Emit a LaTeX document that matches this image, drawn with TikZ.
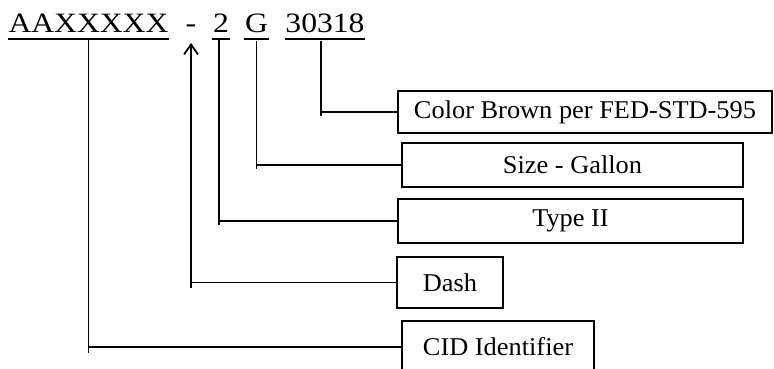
\documentclass[tikz,border=0pt]{standalone}
\usepackage{fontspec}
\setmainfont{Liberation Serif}[FakeStretch=1.03]
\newfontfamily\partfont{Liberation Serif}[FakeStretch=1.13]
\usetikzlibrary{arrows.meta}

\begin{document}
\begin{tikzpicture}[x=1pt,y=-1pt,
    line width=1.8pt,
    code/.style={inner sep=0pt,font=\partfont\fontsize{28}{30}\selectfont},
    field/.style={draw,line width=1.8pt,inner sep=0pt,font=\fontsize{25.6}{28}\selectfont},
    uline/.style={line width=1.5pt}
]
\useasboundingbox (0,0) rectangle (774,369);

% Part number parts
\node[code,anchor=base] (aa) at (88.5,33) {AAXXXXX};
\node[code,anchor=base] (hyph) at (191,33) {-};
\node[code,anchor=base] (type) at (221,33) {2};
\node[code,anchor=base] (size) at (256.5,33) {G};
\node[code,anchor=base] (clr) at (325,33) {30318};

% Underlines (no underline below the dash)
\draw[uline] ([yshift=-5pt]aa.south west) -- ([yshift=-5pt]aa.south east);
\draw[uline] ([yshift=-5pt]type.south west) -- ([yshift=-5pt]type.south east);
\draw[uline] ([yshift=-5pt]size.south west) -- ([yshift=-5pt]size.south east);
\draw[uline] ([yshift=-5pt]clr.south west) -- ([yshift=-5pt]clr.south east);

% Description boxes
\node[field,minimum width=374pt,minimum height=42pt] (color) at (585,112) {Color Brown per FED-STD-595};
\node[field,minimum width=341pt,minimum height=44pt] (gallon) at (572.5,165) {Size - Gallon};
\node[field,minimum width=345pt,minimum height=44pt] (type2) at (570.5,221) {Type II};
\node[field,minimum width=106pt,minimum height=51pt] (dash) at (450,282.5) {Dash};
\node[field,minimum width=192pt,minimum height=52pt] (cid) at (498,347) {CID Identifier};

% Line start points under the parts
\coordinate (t1) at ([yshift=-6.5pt]aa.south);
\coordinate (t2) at ([yshift=-9pt]hyph.south);
\coordinate (t3) at ([xshift=-2pt,yshift=-6.5pt]type.south);
\coordinate (t4) at ([yshift=-6.5pt]size.south);
\coordinate (t5) at ([xshift=-4pt,yshift=-6.5pt]clr.south);

% Leaders
\draw (t5) |- (color.west);
\draw (t5 |- color.west) -- ++(0,4);
\draw (t4) |- (gallon.west);
\draw (t4 |- gallon.west) -- ++(0,4);
\draw (t3) |- (type2.west);
\draw (t3 |- type2.west) -- ++(0,4);
\draw[-{Straight Barb[length=10pt,width=14pt]}] (dash.west) -| (t2);
\draw (t2 |- dash.west) -- ++(0,5);
\draw (t1) |- (cid.west);
\draw (t1 |- cid.west) -- ++(0,6);

\end{tikzpicture}
\end{document}
